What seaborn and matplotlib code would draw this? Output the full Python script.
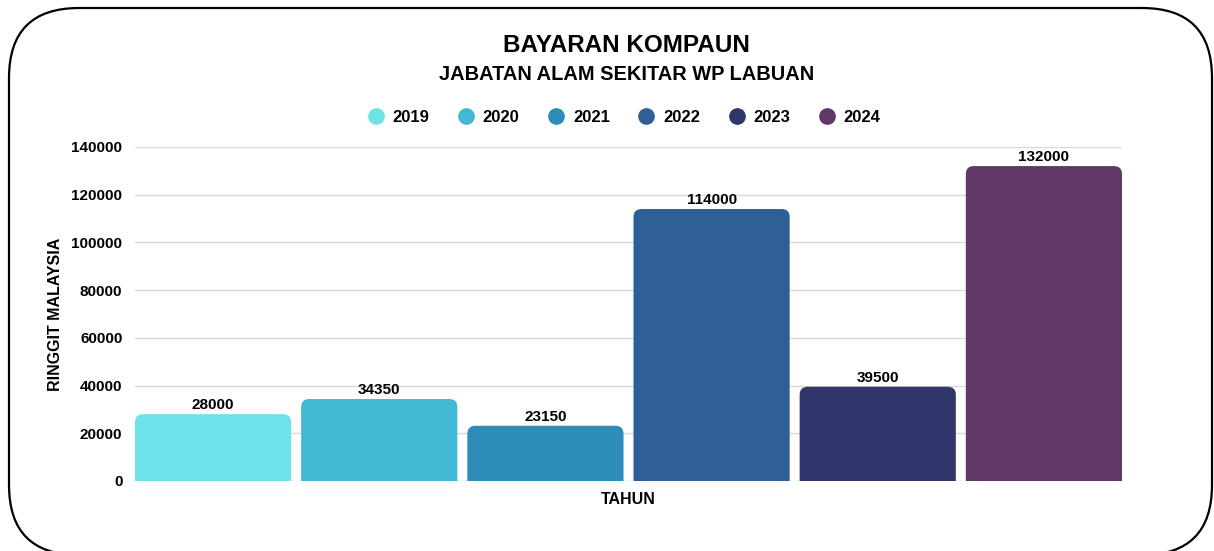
import pandas as pd
import seaborn as sns
import matplotlib.pyplot as plt
from matplotlib.patches import FancyBboxPatch
from matplotlib.lines import Line2D
from matplotlib.transforms import IdentityTransform

# data
tahun = ["2019", "2020", "2021", "2022", "2023", "2024"]
bayaran = [28000, 34350, 23150, 114000, 39500, 132000]
warna = ["#6ce3e6", "#42b8d5", "#2e8cb8", "#2f5f97", "#30366b", "#5f3866"]

df = pd.DataFrame({"kategori": ["TAHUN"] * len(tahun), "tahun": tahun, "bayaran": bayaran})

sns.set_style("white")
plt.rcParams['font.family'] = ['Liberation Sans', 'DejaVu Sans']
plt.rcParams['text.color'] = 'black'
plt.rcParams['axes.labelcolor'] = 'black'
plt.rcParams['ytick.color'] = 'black'

fig = plt.figure(figsize=(12.14, 5.51), dpi=100)
# axes: x 135..1122 px, y 147..481 px
ax = fig.add_axes([135 / 1214, 70 / 551, 987 / 1214, 334 / 551])

sns.barplot(data=df, x="kategori", y="bayaran", hue="tahun", palette=warna,
            gap=0.06, width=1.0, saturation=1, legend=False, ax=ax, zorder=3)

ax.set_ylim(0, 140000)
ax.set_yticks(range(0, 140001, 20000))
ax.set_xlim(-0.495, 0.495)

# rounded tops for the bars
px_x = 0.99 / 987
px_y = 140000 / 334
bars = list(ax.patches)
for p in bars:
    x0, w, h = p.get_x(), p.get_width(), p.get_height()
    fc = p.get_facecolor()
    p.remove()
    rb = FancyBboxPatch((x0, -5000), w, h + 5000,
                        boxstyle=f"round,pad=0,rounding_size={8 * px_x}",
                        mutation_aspect=px_y / px_x,
                        fc=fc, ec="none", zorder=3)
    ax.add_patch(rb)
    ax.text(x0 + w / 2, h + 900, f"{h:.0f}", ha="center", va="bottom",
            fontsize=11, fontweight="bold", color="black", zorder=4)

ax.grid(axis="y", color="#d9d9d9", linewidth=1, zorder=0)
ax.set_axisbelow(True)
for s in ax.spines.values():
    s.set_visible(False)
ax.tick_params(axis="y", length=0, pad=9, labelsize=11)
for t in ax.get_yticklabels():
    t.set_fontweight("bold")
ax.set_xticks([])
ax.set_xlabel("TAHUN", fontsize=11.5, fontweight="bold", labelpad=8)
ax.set_ylabel("RINGGIT MALAYSIA", fontsize=11.5, fontweight="bold", labelpad=6)

# titles
fig.text(0.516, 1 - 45 / 551, "BAYARAN KOMPAUN", ha="center", va="center",
         fontsize=17.5, fontweight="bold")
fig.text(0.516, 1 - 74 / 551, "JABATAN ALAM SEKITAR WP LABUAN", ha="center", va="center",
         fontsize=14.4, fontweight="bold")

# legend
handles = [Line2D([], [], marker="o", linestyle="none", markersize=11,
                  markerfacecolor=c, markeredgecolor=c) for c in warna]
fig.legend(handles, tahun, loc="center", bbox_to_anchor=(624 / 1214, 1 - 117 / 551), ncol=6,
           frameon=False, prop={"weight": "bold", "size": 12}, handlelength=1.0,
           handletextpad=0.5, columnspacing=1.7)

# rounded frame
frame = FancyBboxPatch((9, -4), 1203, 551 - 8 + 4, boxstyle="round,pad=0,rounding_size=70",
                       transform=IdentityTransform(), fill=False, ec="black", lw=1.6)
fig.patches.append(frame)

fig.savefig("out.png", dpi=100, facecolor="white")
